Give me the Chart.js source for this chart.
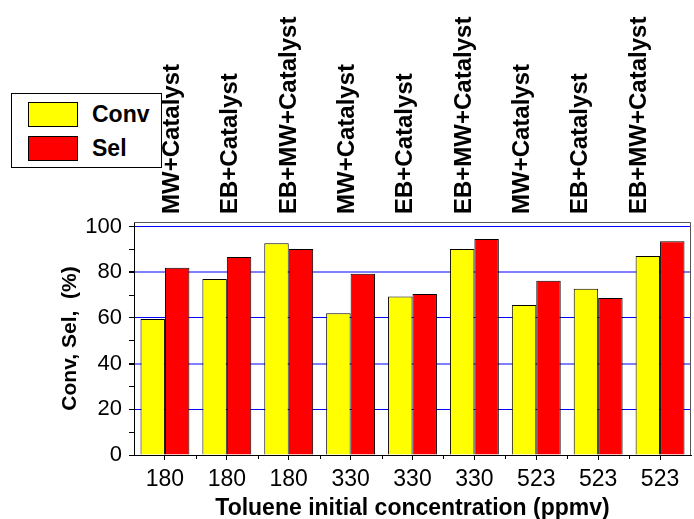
<!DOCTYPE html>
<html>
<head>
<meta charset="utf-8">
<script src="https://cdn.jsdelivr.net/npm/chart.js@4"></script>
<style>
  body { margin: 0; background: #fff; }
  #wrap { position: relative; width: 694px; height: 519px; }
  #chart { position: absolute; left: 0; top: 0; z-index: 1; }
  #legend {
    position: absolute; left: 11px; top: 93px; width: 149px; height: 73px; z-index: 0;
    border: 1px solid #000; background: #fff;
    font: bold 23px Arial, 'Liberation Sans', sans-serif; color: #000;
  }
  .item { position: absolute; left: 16px; height: 25px; }
  .sw { position: absolute; left: 0; top: 0; width: 48px; height: 23px; border: 1px solid #000; }
  .lbl { position: absolute; left: 64px; top: 0; line-height: 25px; white-space: nowrap; }
</style>
</head>
<body>
<div id="wrap">
  <div id="legend"></div>
  <canvas id="chart" width="694" height="519"></canvas>
</div>
<script>
const concentrations = ['180', '180', '180', '330', '330', '330', '523', '523', '523'];
const methods = ['MW+Catalyst', 'EB+Catalyst', 'EB+MW+Catalyst',
                 'MW+Catalyst', 'EB+Catalyst', 'EB+MW+Catalyst',
                 'MW+Catalyst', 'EB+Catalyst', 'EB+MW+Catalyst'];
const conv = [59.5, 77.0, 92.7, 62.1, 69.4, 90.2, 65.7, 72.8, 87.1];
const sel = [82.0, 86.7, 90.2, 79.4, 70.5, 94.6, 76.3, 68.7, 93.6];

const font = "Arial, 'Liberation Sans', sans-serif";

// frame round the plot area plus small ticks between the categories
const framePlugin = {
    id: 'frame',
    afterDraw(chart) {
        const {ctx, chartArea: a, scales} = chart;
        ctx.save();
        ctx.strokeStyle = '#555';
        ctx.lineWidth = 1;
        ctx.beginPath();
        ctx.moveTo(a.left, a.top + 0.5);
        ctx.lineTo(a.right - 0.5, a.top + 0.5);
        ctx.lineTo(a.right - 0.5, a.bottom);
        ctx.stroke();

        const x = scales.x;
        const half = (x.getPixelForValue(1) - x.getPixelForValue(0)) / 2;
        ctx.strokeStyle = '#000';
        ctx.beginPath();
        for (let i = 1; i < concentrations.length; i++) {
            const px = Math.round(x.getPixelForValue(i) - half) + 0.5;
            ctx.moveTo(px, a.bottom);
            ctx.lineTo(px, a.bottom + 4);
        }
        ctx.stroke();
        ctx.restore();
    }
};

const data = {
    labels: concentrations,
    datasets: [{
        label: 'Conv',
        data: conv,
        backgroundColor: '#ffff00',
        borderColor: '#000',
        borderWidth: 1
    }, {
        label: 'Sel',
        data: sel,
        backgroundColor: '#ff0000',
        borderColor: '#000',
        borderWidth: 1
    }]
};

const config = {
    type: 'bar',
    data: data,
    plugins: [framePlugin],
    options: {
        responsive: false,
        animation: false,
        layout: { padding: { left: 0, right: 3, top: 0, bottom: 0 } },
        datasets: {
            bar: { categoryPercentage: 0.79, barPercentage: 1.0 }
        },
        plugins: {
            legend: { display: false },
            tooltip: { enabled: false }
        },
        scales: {
            x: {
                position: 'bottom',
                grid: { offset: false, drawOnChartArea: false, tickLength: 5, color: '#000' },
                border: { color: '#000' },
                ticks: { color: '#000', font: { family: font, size: 23 }, padding: 6, maxRotation: 0 },
                title: {
                    display: true,
                    text: 'Toluene initial concentration (ppmv)',
                    color: '#000',
                    font: { family: font, size: 23, weight: 'bold' },
                    padding: { top: 0, bottom: -3 }
                },
                afterFit: s => { s.height = 64; }
            },
            // the method names above the plot sit a little tighter than the categories
            x2: {
                type: 'linear',
                position: 'top',
                offset: false,
                min: -0.668,
                max: 8.874,
                grid: { display: false, drawTicks: false, offset: false },
                border: { display: false },
                afterBuildTicks: s => { s.ticks = methods.map((m, i) => ({ value: i })); },
                ticks: {
                    color: '#000',
                    font: { family: font, size: 24, weight: 'bold' },
                    minRotation: 90, maxRotation: 90, autoSkip: false,
                    padding: 8, labelOffset: 28,
                    callback: v => methods[v]
                },
                afterFit: s => { s.height = 222; }
            },
            y: {
                min: 0,
                max: 102,
                border: { color: '#000' },
                grid: {
                    color: c => {
                        const v = c.tick.value;
                        if (v === 100 || v === 60 || v === 20) return '#0000ff';
                        if (v === 80 || v === 40) return '#8080ff';
                        return 'rgba(0,0,0,0)';
                    },
                    lineWidth: c => (c.tick.value === 80 || c.tick.value === 40) ? 2 : 1,
                    tickColor: c => c.tick.value % 10 === 0 ? '#000' : 'rgba(0,0,0,0)',
                    tickLength: 5
                },
                ticks: {
                    stepSize: 10,
                    includeBounds: false,
                    autoSkip: false,
                    color: '#000',
                    padding: 7,
                    font: { family: font, size: 22 },
                    callback: v => v % 20 === 0 ? v : ''
                },
                title: {
                    display: true,
                    text: 'Conv, Sel,  (%)',
                    color: '#000',
                    font: { family: font, size: 21, weight: 'bold' },
                    padding: { top: 58, bottom: 0 }
                },
                afterFit: s => { s.width = 134; }
            }
        }
    }
};

const chart = new Chart(document.getElementById('chart'), config);

// legend box built from the datasets
const legend = document.getElementById('legend');
chart.data.datasets.forEach((ds, i) => {
    const item = document.createElement('div');
    item.className = 'item';
    item.style.top = (8 + i * 34) + 'px';
    item.innerHTML = '<div class="sw" style="background:' + ds.backgroundColor + '"></div>' +
        '<div class="lbl">' + ds.label + '</div>';
    legend.appendChild(item);
});
</script>
</body>
</html>
